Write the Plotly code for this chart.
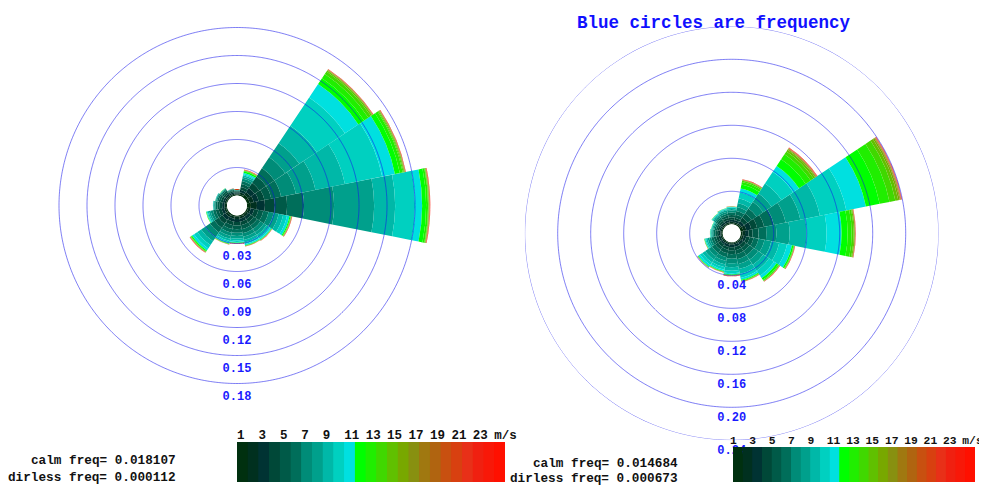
import numpy as np
import plotly.graph_objects as go

# ---------------- data ----------------
directions = ["N", "NNE", "NE", "ENE", "E", "ESE", "SE", "SSE",
              "S", "SSW", "SW", "WSW", "W", "WNW", "NW", "NNW"]
dir_angles = [0, 22.5, 45, 67.5, 90, 112.5, 135, 157.5,
              180, 202.5, 225, 247.5, 270, 292.5, 315, 337.5]

speed_ticks = ["1", "3", "5", "7", "9", "11", "13", "15", "17", "19", "21", "23", "m/s"]
speed_colors = ["#00300f", "#00301f", "#003333", "#004838", "#005a48", "#006e5a",
                "#008c78", "#00a08c", "#00b8a8", "#00d0c0", "#00e0e0",
                "#00ff00", "#20ee00", "#40d800", "#60c000", "#78a800", "#889010",
                "#a07810", "#b06410", "#c85010", "#d84010", "#e83018", "#f02010",
                "#f81808", "#ff1000"]

# left rose: frequency per speed bin (25 bins) for each direction
left_N = [0.0011, 0.0011, 0.0011, 0.0011, 0.0008, 0.0005, 0.0003, 0.0002, 0.0001, 0.00005, 0.00003, 0.00002, 0.00002,
          0.00001, 0.00001, 0.00001, 0.00001, 0.00001, 0.00001, 0.00001, 0.00001, 0.00001, 0.00001, 0.00001, 0.00001]
left_NNE = [0.0016, 0.0021, 0.0027, 0.0032, 0.0032, 0.0032, 0.0027, 0.0021, 0.0016, 0.0011, 0.0016, 0.0016, 0.0005,
            0.0003, 0.0001, 0.0001, 0.0001, 0.0001, 0.0001, 0.0001, 0.0001, 0.0001, 0.0001, 0.0001, 0.0001]
left_NE = [0.0032, 0.0032, 0.0054, 0.0064, 0.0086, 0.0107, 0.0139, 0.0182, 0.0225, 0.0364, 0.0172, 0.0075, 0.0054,
           0.0032, 0.0016, 0.0006, 0.0003, 0.0002, 0.0001, 0.0001, 0.0001, 0.0001, 0.0001, 0.0001, 0.0001]
left_ENE = [0.0032, 0.0043, 0.0054, 0.0064, 0.0075, 0.0107, 0.0161, 0.0214, 0.0322, 0.0407, 0.0139, 0.0054, 0.0032,
            0.0011, 0.0008, 0.0004, 0.0003, 0.0002, 0.0001, 0.0001, 0.0001, 0.0001, 0.0001, 0.0001, 0.0001]
left_E = [0.0043, 0.0064, 0.0086, 0.0107, 0.0129, 0.0182, 0.0322, 0.0429, 0.0225, 0.0214, 0.0075, 0.0043, 0.0021,
          0.0006, 0.0004, 0.0003, 0.0002, 0.0002, 0.0001, 0.0001, 0.0001, 0.0001, 0.0001, 0.0001, 0.0001]
left_ESE = [0.0016, 0.0027, 0.0038, 0.0046, 0.0054, 0.0057, 0.0057, 0.0054, 0.0048, 0.0043, 0.0027, 0.0011, 0.0005,
            0.0003, 0.0001, 0.0001, 0.0001, 0.0001, 0.0001, 0.0001, 0.0001, 0.0001, 0.0001, 0.0001, 0.0001]
left_SE = [0.0014, 0.0024, 0.0032, 0.0039, 0.0043, 0.0045, 0.0042, 0.0035, 0.0028, 0.0020, 0.0013, 0.0005, 0.0003,
           0.00005, 0.00005, 0.00005, 0.00005, 0.00005, 0.00005, 0.00005, 0.00005, 0.00005, 0.00005, 0.00005, 0.00005]
left_SSE = [0.0014, 0.0024, 0.0032, 0.0039, 0.0043, 0.0043, 0.0040, 0.0034, 0.0027, 0.0019, 0.0012, 0.0005, 0.0003,
            0.00005, 0.00005, 0.00005, 0.00005, 0.00005, 0.00005, 0.00005, 0.00005, 0.00005, 0.00005, 0.00005, 0.00005]
left_S = [0.0014, 0.0024, 0.0032, 0.0038, 0.0040, 0.0038, 0.0033, 0.0028, 0.0021, 0.0015, 0.0009, 0.0004, 0.0002,
          0.00005, 0.00005, 0.00005, 0.00005, 0.00005, 0.00005, 0.00005, 0.00005, 0.00005, 0.00005, 0.00005, 0.00005]
left_SSW = [0.0014, 0.0024, 0.0032, 0.0038, 0.0041, 0.0041, 0.0036, 0.0030, 0.0024, 0.0017, 0.0011, 0.0005, 0.0003,
            0.00005, 0.00005, 0.00005, 0.00005, 0.00005, 0.00005, 0.00005, 0.00005, 0.00005, 0.00005, 0.00005, 0.00005]
left_SW = [0.0016, 0.0027, 0.0038, 0.0048, 0.0054, 0.0059, 0.0059, 0.0054, 0.0048, 0.0043, 0.0027, 0.0011, 0.0005,
           0.0003, 0.0001, 0.0001, 0.0001, 0.0001, 0.0001, 0.0001, 0.0001, 0.0001, 0.0001, 0.0001, 0.0001]
left_WSW = [0.0013, 0.0021, 0.0028, 0.0032, 0.0032, 0.0030, 0.0026, 0.0019, 0.0013, 0.0009, 0.0005, 0.0003, 0.0002,
            0.00002, 0.00002, 0.00002, 0.00002, 0.00002, 0.00002, 0.00002, 0.00002, 0.00002, 0.00002, 0.00002, 0.00002]
left_W = [0.0011, 0.0018, 0.0024, 0.0026, 0.0025, 0.0020, 0.0013, 0.0008, 0.0004, 0.0002, 0.00005, 0.00003, 0.00002,
          0.00001, 0.00001, 0.00001, 0.00001, 0.00001, 0.00001, 0.00001, 0.00001, 0.00001, 0.00001, 0.00001, 0.00001]
left_WNW = [0.0011, 0.0017, 0.0021, 0.0024, 0.0021, 0.0017, 0.0011, 0.0006, 0.0003, 0.0001, 0.00005, 0.00003, 0.00002,
            0.00001, 0.00001, 0.00001, 0.00001, 0.00001, 0.00001, 0.00001, 0.00001, 0.00001, 0.00001, 0.00001, 0.00001]
left_NW = [0.0011, 0.0016, 0.0019, 0.0021, 0.0019, 0.0014, 0.0009, 0.0004, 0.0002, 0.0001, 0.00005, 0.00003, 0.00002,
           0.00001, 0.00001, 0.00001, 0.00001, 0.00001, 0.00001, 0.00001, 0.00001, 0.00001, 0.00001, 0.00001, 0.00001]
left_NNW = [0.0011, 0.0013, 0.0014, 0.0014, 0.0011, 0.0008, 0.0004, 0.0002, 0.0001, 0.00005, 0.00003, 0.00002, 0.00002,
            0.00001, 0.00001, 0.00001, 0.00001, 0.00001, 0.00001, 0.00001, 0.00001, 0.00001, 0.00001, 0.00001, 0.00001]

# right rose
right_N = [0.0012, 0.0019, 0.0024, 0.0029, 0.0030, 0.0028, 0.0024, 0.0019, 0.0015, 0.0008, 0.0004, 0.0002, 0.0001,
           0.00003, 0.00003, 0.00003, 0.00003, 0.00003, 0.00003, 0.00003, 0.00003, 0.00003, 0.00003, 0.00003, 0.00003]
right_NNE = [0.0012, 0.0018, 0.0024, 0.0030, 0.0036, 0.0048, 0.0048, 0.0048, 0.0061, 0.0073, 0.0048, 0.0048, 0.0030,
             0.0015, 0.0007, 0.0004, 0.0001, 0.0001, 0.0001, 0.0001, 0.0001, 0.0001, 0.0001, 0.0001, 0.0001]
right_NE = [0.0018, 0.0018, 0.0036, 0.0048, 0.0061, 0.0073, 0.0097, 0.0121, 0.0145, 0.0170, 0.0085, 0.0097, 0.0073,
            0.0042, 0.0024, 0.0012, 0.0006, 0.0002, 0.0002, 0.0002, 0.0002, 0.0002, 0.0002, 0.0002, 0.0002]
right_ENE = [0.0036, 0.0036, 0.0061, 0.0073, 0.0085, 0.0121, 0.0145, 0.0182, 0.0242, 0.0327, 0.0242, 0.0170, 0.0121,
             0.0073, 0.0036, 0.0018, 0.0010, 0.0005, 0.0002, 0.0002, 0.0002, 0.0002, 0.0002, 0.0002, 0.0002]
right_E = [0.0024, 0.0030, 0.0042, 0.0048, 0.0073, 0.0097, 0.0121, 0.0158, 0.0206, 0.0242, 0.0182, 0.0073, 0.0048,
           0.0024, 0.0012, 0.0006, 0.0001, 0.0001, 0.0001, 0.0001, 0.0001, 0.0001, 0.0001, 0.0001, 0.0001]
right_ESE = [0.0018, 0.0024, 0.0030, 0.0042, 0.0048, 0.0061, 0.0073, 0.0085, 0.0097, 0.0097, 0.0061, 0.0018, 0.0007,
             0.0004, 0.0001, 0.0001, 0.0001, 0.0001, 0.0001, 0.0001, 0.0001, 0.0001, 0.0001, 0.0001, 0.0001]
right_SE = [0.0012, 0.0018, 0.0030, 0.0042, 0.0048, 0.0061, 0.0067, 0.0073, 0.0085, 0.0073, 0.0036, 0.0024, 0.0012,
            0.0006, 0.0001, 0.0001, 0.0001, 0.0001, 0.0001, 0.0001, 0.0001, 0.0001, 0.0001, 0.0001, 0.0001]
right_SSE = [0.0012, 0.0018, 0.0030, 0.0042, 0.0048, 0.0061, 0.0061, 0.0061, 0.0061, 0.0048, 0.0024, 0.0012, 0.0006,
             0.0001, 0.0001, 0.0001, 0.0001, 0.0001, 0.0001, 0.0001, 0.0001, 0.0001, 0.0001, 0.0001, 0.0001]
right_S = [0.0012, 0.0018, 0.0030, 0.0036, 0.0048, 0.0055, 0.0055, 0.0048, 0.0042, 0.0030, 0.0015, 0.0007, 0.0004,
           0.0001, 0.0001, 0.0001, 0.0001, 0.0001, 0.0001, 0.0001, 0.0001, 0.0001, 0.0001, 0.0001, 0.0001]
right_SSW = [0.0012, 0.0018, 0.0030, 0.0036, 0.0042, 0.0048, 0.0048, 0.0042, 0.0036, 0.0030, 0.0018, 0.0006, 0.0004,
             0.00006, 0.00006, 0.00006, 0.00006, 0.00006, 0.00006, 0.00006, 0.00006, 0.00006, 0.00006, 0.00006, 0.00006]
right_SW = [0.0012, 0.0018, 0.0024, 0.0036, 0.0042, 0.0048, 0.0048, 0.0048, 0.0042, 0.0036, 0.0024, 0.0007, 0.0004,
            0.00006, 0.00006, 0.00006, 0.00006, 0.00006, 0.00006, 0.00006, 0.00006, 0.00006, 0.00006, 0.00006, 0.00006]
right_WSW = [0.0012, 0.0018, 0.0024, 0.0030, 0.0030, 0.0030, 0.0024, 0.0022, 0.0018, 0.0012, 0.0006, 0.0004, 0.0002,
             0.00004, 0.00004, 0.00004, 0.00004, 0.00004, 0.00004, 0.00004, 0.00004, 0.00004, 0.00004, 0.00004, 0.00004]
right_W = [0.0012, 0.0016, 0.0019, 0.0022, 0.0022, 0.0019, 0.0016, 0.0012, 0.0008, 0.0005, 0.0002, 0.0001, 0.00006,
           0.00002, 0.00002, 0.00002, 0.00002, 0.00002, 0.00002, 0.00002, 0.00002, 0.00002, 0.00002, 0.00002, 0.00002]
right_WNW = [0.0012, 0.0015, 0.0018, 0.0021, 0.0021, 0.0018, 0.0015, 0.0011, 0.0007, 0.0005, 0.0002, 0.0001, 0.00006,
             0.00002, 0.00002, 0.00002, 0.00002, 0.00002, 0.00002, 0.00002, 0.00002, 0.00002, 0.00002, 0.00002, 0.00002]
right_NW = [0.0012, 0.0018, 0.0023, 0.0025, 0.0025, 0.0023, 0.0019, 0.0015, 0.0011, 0.0007, 0.0004, 0.0002, 0.0001,
            0.00002, 0.00002, 0.00002, 0.00002, 0.00002, 0.00002, 0.00002, 0.00002, 0.00002, 0.00002, 0.00002, 0.00002]
right_NNW = [0.0012, 0.0019, 0.0024, 0.0028, 0.0028, 0.0025, 0.0022, 0.0017, 0.0012, 0.0008, 0.0004, 0.0002, 0.0001,
             0.00002, 0.00002, 0.00002, 0.00002, 0.00002, 0.00002, 0.00002, 0.00002, 0.00002, 0.00002, 0.00002, 0.00002]

left_rings = [0.03, 0.06, 0.09, 0.12, 0.15, 0.18]
left_ring_labels = ["0.03", "0.06", "0.09", "0.12", "0.15", "0.18"]
right_rings = [0.04, 0.08, 0.12, 0.16, 0.20, 0.24]
right_ring_labels = ["0.04", "0.08", "0.12", "0.16", "0.20", "0.24"]

left_calm = "calm freq= 0.018107"
left_dirless = "dirless freq= 0.000112"
right_calm = "calm freq= 0.014684"
right_dirless = "dirless freq= 0.000673"
title_text = "Blue circles are frequency"

left_table = [left_N, left_NNE, left_NE, left_ENE, left_E, left_ESE, left_SE, left_SSE,
              left_S, left_SSW, left_SW, left_WSW, left_W, left_WNW, left_NW, left_NNW]
right_table = [right_N, right_NNE, right_NE, right_ENE, right_E, right_ESE, right_SE, right_SSE,
               right_S, right_SSW, right_SW, right_WSW, right_W, right_WNW, right_NW, right_NNW]

# ---------------- figure ----------------
# the page body has an 8px margin, so the figure starts at (8, 8) in the window
OFF = 8
W, H = 987 - OFF, 485 - OFF
MONO = "Liberation Mono, Courier New, monospace"
RING_COLOR = "rgba(20,20,235,0.55)"


def px(xs):
    return (xs - OFF) / W


def py(ys):
    return 1 - (ys - OFF) / H


fig = go.Figure()


def add_rose(table, rings, ring_labels, subplot, label_gap):
    nb = len(speed_colors)
    for b in range(nb):
        fig.add_trace(go.Barpolar(
            r=[row[b] for row in table], theta=dir_angles, width=22.5,
            marker=dict(color=speed_colors[b], line=dict(width=0)),
            subplot=subplot, showlegend=False, hoverinfo="skip"))
    circle_theta = np.linspace(0, 360, 721)
    for v in rings:
        fig.add_trace(go.Scatterpolar(
            r=np.full(circle_theta.shape, v), theta=circle_theta, mode="lines",
            line=dict(color=RING_COLOR, width=1), subplot=subplot,
            showlegend=False, hoverinfo="skip"))
    # labels hang just below each ring (an invisible marker sets the gap)
    fig.add_trace(go.Scatterpolar(
        r=rings, theta=[180] * len(rings), mode="markers+text", text=ring_labels,
        textposition="bottom center",
        marker=dict(size=label_gap, color="rgba(0,0,0,0)"),
        textfont=dict(family=MONO, size=12, color="#1a1aff", weight="bold"),
        subplot=subplot, showlegend=False, hoverinfo="skip"))


add_rose(left_table, left_rings, left_ring_labels, "polar", 10)
add_rose(right_table, right_rings, right_ring_labels, "polar2", 6)

# colour bars: heatmap-backed axes, cells repeated as shapes so they sit on top
n = len(speed_colors)
cscale = []
for i, c in enumerate(speed_colors):
    cscale.append([i / n, c])
    cscale.append([(i + 1) / n, c])
tickvals = [i - 0.5 for i in range(0, n, 2)]
for xa, ya in (("x", "y"), ("x2", "y2")):
    fig.add_trace(go.Heatmap(z=[list(range(n))], x=list(range(n)), colorscale=cscale,
                             zmin=-0.5, zmax=n - 0.5, showscale=False,
                             xaxis=xa, yaxis=ya, hoverinfo="skip"))
    for i, c in enumerate(speed_colors):
        fig.add_shape(type="rect", xref=xa, yref=ya, x0=i - 0.5, x1=i + 0.5,
                      y0=-0.5, y1=0.5, fillcolor=c, line=dict(width=0), layer="above")


def polar_layout(cx, cy, hole_px, radius_px, rmax):
    return dict(
        domain=dict(x=[px(cx - radius_px), px(cx + radius_px)],
                    y=[py(cy + radius_px), py(cy - radius_px)]),
        hole=hole_px / radius_px,
        bgcolor="rgba(0,0,0,0)",
        barmode="stack",
        radialaxis=dict(visible=False, range=[0, rmax]),
        angularaxis=dict(visible=False, rotation=90, direction="clockwise",
                         showgrid=False, showline=False, ticks=""),
    )


left_rmax = 0.2
left_radius = 10 + left_rmax * (28.0 / 0.03)
right_rmax = 0.24
right_radius = 9 + right_rmax * (33.0 / 0.04)


def bar_axis(font_size, shift):
    return dict(showgrid=False, zeroline=False, showline=False, ticks="",
                side="top", ticklabelposition="outside right", tickangle=0,
                ticklabeloverflow="allow", automargin=False, ticklabelshift=shift,
                tickfont=dict(family=MONO, size=font_size, color="#111111", weight="bold"),
                range=[-0.5, n - 0.5], tickvals=tickvals, ticktext=speed_ticks,
                fixedrange=True)


yaxis_common = dict(visible=False, range=[-0.5, 0.5], fixedrange=True, automargin=False)

fig.update_layout(
    width=W, height=H,
    margin=dict(l=0, r=0, t=0, b=0, pad=0, autoexpand=False),
    paper_bgcolor="white", plot_bgcolor="white",
    polar=polar_layout(237, 205.5, 10, left_radius, left_rmax),
    polar2=polar_layout(731.7, 233.3, 9, right_radius, right_rmax),
    xaxis=dict(domain=[px(237), px(505)], anchor="y", **bar_axis(12.5, 0)),
    yaxis=dict(domain=[py(482), py(442)], anchor="x", **yaxis_common),
    xaxis2=dict(domain=[px(733), px(975)], anchor="y2", **bar_axis(11.3, -3)),
    yaxis2=dict(domain=[py(482), py(447)], anchor="x2", **yaxis_common),
    showlegend=False,
)

ann_font = dict(family=MONO, size=12.7, color="#111111", weight="bold")
annotations = [
    dict(text=left_calm, x=px(178), y=py(460), xanchor="right", yanchor="middle"),
    dict(text=left_dirless, x=px(178), y=py(477), xanchor="right", yanchor="middle"),
    dict(text=right_calm, x=px(680), y=py(463), xanchor="right", yanchor="middle"),
    dict(text=right_dirless, x=px(680), y=py(478), xanchor="right", yanchor="middle"),
]
for a in annotations:
    a.update(xref="paper", yref="paper", showarrow=False, font=ann_font)
annotations.append(dict(text=title_text, x=px(714), y=py(22.5),
                        xref="paper", yref="paper", xanchor="center", yanchor="middle",
                        showarrow=False,
                        font=dict(family=MONO, size=17.5, color="#1010ff", weight="bold")))
fig.update_layout(annotations=annotations)
fig.add_shape(type="rect", xref="paper", yref="paper", x0=0, x1=1, y0=py(15.5), y1=1,
              fillcolor="white", line=dict(width=0), layer="above")

fig.write_html("out.html")
